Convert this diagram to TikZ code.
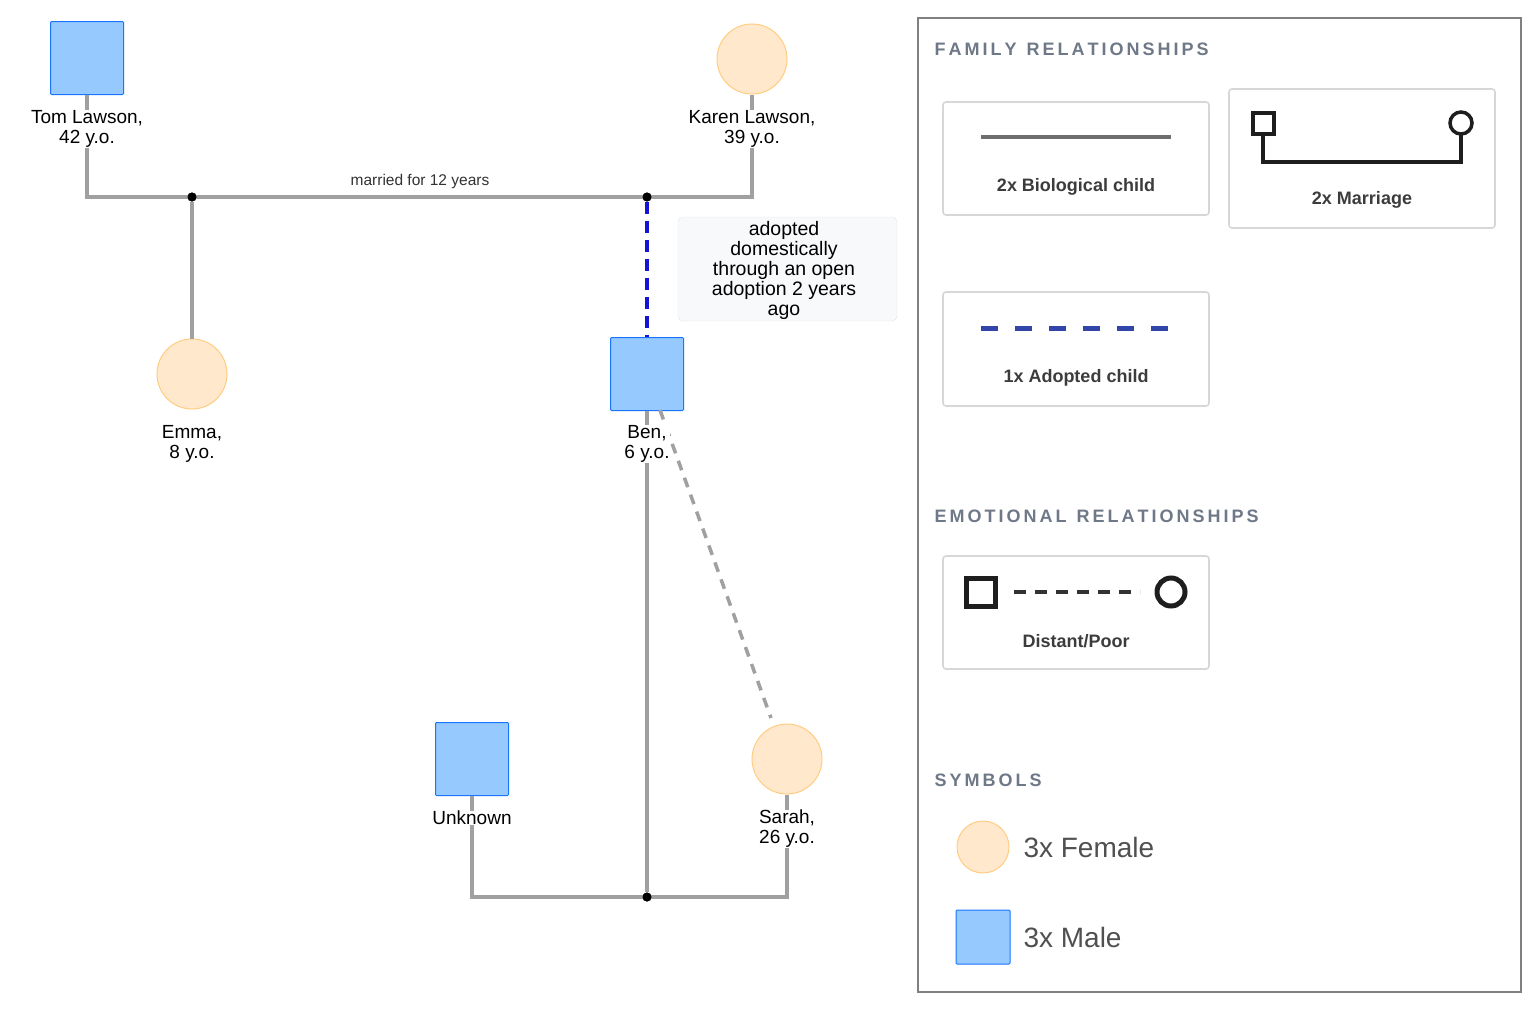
\documentclass[tikz,border=0pt]{standalone}
\usepackage{fontspec}
\setmainfont{Liberation Sans}
\begin{document}
\begin{tikzpicture}[x=1pt,y=-1pt,
 male/.style={draw=blue!60!cyan!90,fill={rgb,255:red,150;green,202;blue,255},minimum size=73pt,inner sep=0,line width=1pt,rounded corners=1pt},
 female/.style={circle,draw={rgb,255:red,255;green,205;blue,130},fill={rgb,255:red,255;green,232;blue,204},minimum size=70pt,inner sep=0,line width=1pt},
 lbl/.style={fill=white,inner sep=0.5pt,align=center,font=\fontsize{19}{20}\selectfont},
 rel/.style={draw={rgb,255:red,160;green,160;blue,160},line width=3.5pt},
 dot/.style={circle,fill=black,inner sep=0,minimum size=9pt},
 lbox/.style={draw={rgb,255:red,215;green,215;blue,215},line width=1.6pt,rounded corners=3pt},
 head/.style={anchor=west,text={rgb,255:red,110;green,120;blue,135},font=\bfseries\fontsize{18}{18}\selectfont},
 ltext/.style={text={rgb,255:red,60;green,60;blue,60},font=\bfseries\fontsize{18}{18}\selectfont}]
\useasboundingbox (0,0) rectangle (1539,1010);
% nodes
\node[male] (tom) at (87,58) {};
\node[female] (karen) at (752,59) {};
\node[female] (emma) at (192,374) {};
\node[male] (ben) at (647,374) {};
\node[male] (unk) at (472,759) {};
\node[female] (sarah) at (787,759) {};
\coordinate (tl) at (87,197); \coordinate (kl) at (752,197);
\node[dot] (m1) at (192,197) {};
\node[dot] (m2) at (647,197) {};
\coordinate (ul) at (472,897); \coordinate (sl) at (787,897);
\node[dot] (m3) at (647,897) {};
\coordinate (bd) at (660,410); \coordinate (sd) at (771,718);
% connectors
\draw[rel] (tom.south) -- (tl) -- (kl) -- (karen.south);
\draw[rel] (m1) -- (emma.north);
\draw[draw={rgb,255:red,20;green,20;blue,210},line width=4pt,dash pattern=on 12pt off 7pt] (m2) -- (ben.north);
\draw[rel] (ben.south) -- (m3);
\draw[rel] (unk.south) -- (ul) -- (sl) -- (sarah.south);
\draw[draw={rgb,255:red,160;green,160;blue,160},line width=3.5pt,dash pattern=on 10pt off 8pt] (bd) -- (sd);
\node[dot] at (m1) {}; \node[dot] at (m2) {}; \node[dot] at (m3) {};
% labels
\node[lbl] (tomL) at (87,129) {Tom Lawson,\\42 y.o.};
\node[lbl] (karenL) at (752,129) {Karen Lawson,\\39 y.o.};
\node[lbl] (emmaL) at (192,444) {Emma,\\8 y.o.};
\node[lbl] (benL) at (647,444) {Ben,\\6 y.o.};
\node[lbl] (unkL) at (472,818) {Unknown};
\node[lbl] (sarahL) at (787,829) {Sarah,\\26 y.o.};
\node[font=\fontsize{15.5}{16}\selectfont,text={rgb,255:red,50;green,50;blue,50}] (mar) at (420,181) {married for 12 years};
\node[draw={rgb,255:red,225;green,228;blue,232},fill={rgb,255:red,248;green,249;blue,250},rounded corners=5pt,minimum width=219pt,minimum height=104pt,align=center,font=\fontsize{19.5}{20}\selectfont] (note) at (787.5,269) {};
\node[align=center,font=\fontsize{19.5}{20}\selectfont] at (784,270) {adopted\\domestically\\through an open\\adoption 2 years\\ago};
% legend
\draw[draw={rgb,255:red,128;green,128;blue,128},line width=2.5pt] (918,18) rectangle (1521,992);
\node[head] at (931,49) {F\,A\,M\,I\,L\,Y\ \ R\,E\,L\,A\,T\,I\,O\,N\,S\,H\,I\,P\,S};
\draw[lbox] (943,102) rectangle (1209,215);
\draw[draw={rgb,255:red,110;green,110;blue,110},line width=4.5pt] (981,137) -- (1171,137);
\node[ltext] at (1076,187) {2x Biological child};
\draw[lbox] (1229,89) rectangle (1495,228);
\draw[line width=3.5pt,draw={rgb,255:red,30;green,30;blue,30}] (1253,113) rectangle (1274,134);
\draw[line width=3.5pt,draw={rgb,255:red,30;green,30;blue,30}] (1461,123) circle (11);
\draw[line width=3.5pt,draw={rgb,255:red,30;green,30;blue,30}] (1263,134) -- (1263,162) -- (1461,162) -- (1461,134);
\node[ltext] at (1362,200) {2x Marriage};
\draw[lbox] (943,292) rectangle (1209,406);
\draw[draw={rgb,255:red,50;green,70;blue,170},line width=5pt,dash pattern=on 17pt off 17pt] (981,328) -- (1171,328);
\node[ltext] at (1076,378) {1x Adopted child};
\node[head] at (931,516) {E\,M\,O\,T\,I\,O\,N\,A\,L\ \ R\,E\,L\,A\,T\,I\,O\,N\,S\,H\,I\,P\,S};
\draw[lbox] (943,556) rectangle (1209,669);
\draw[line width=5pt,draw={rgb,255:red,30;green,30;blue,30}] (966,578) rectangle (995,606);
\draw[line width=4.5pt,draw={rgb,255:red,50;green,50;blue,50},dash pattern=on 12pt off 9pt] (1014,592) -- (1140,592);
\draw[line width=5pt,draw={rgb,255:red,30;green,30;blue,30}] (1171,592) circle (14);
\node[ltext] at (1076,641) {Distant/Poor};
\node[head] at (931,780) {S\,Y\,M\,B\,O\,L\,S};
\node[female,minimum size=52pt] at (983,847) {};
\node[anchor=west,font=\fontsize{28}{28}\selectfont,text={rgb,255:red,80;green,80;blue,80}] at (1020,847) {3x Female};
\node[male,minimum size=54pt] at (983,937) {};
\node[anchor=west,font=\fontsize{28}{28}\selectfont,text={rgb,255:red,80;green,80;blue,80}] at (1020,937) {3x Male};
\end{tikzpicture}
\end{document}
